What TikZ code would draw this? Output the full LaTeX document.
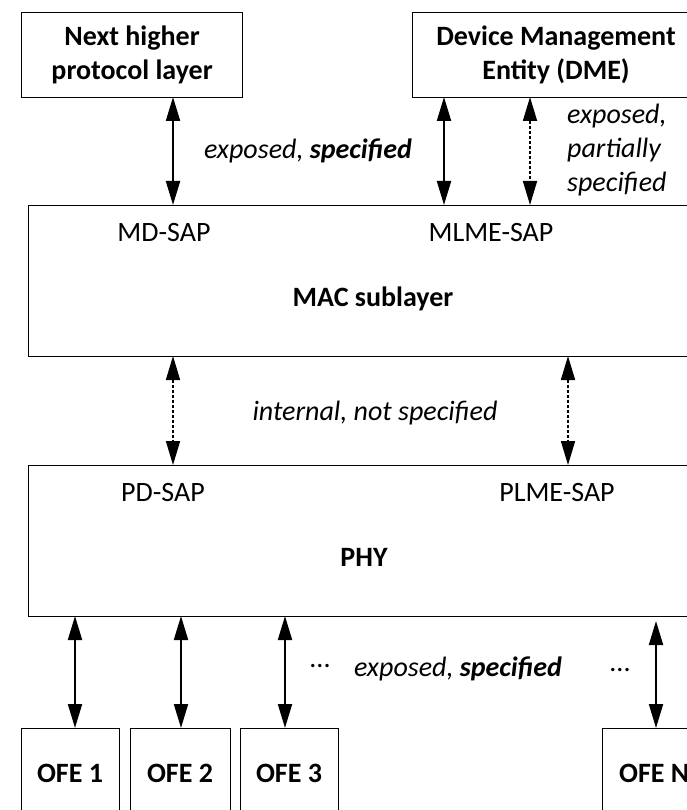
\documentclass[tikz,border=0pt]{standalone}
\usepackage{fontspec}
\setmainfont{Carlito}
\usetikzlibrary{arrows.meta}
\begin{document}
\begin{tikzpicture}[x=1pt,y=-1pt,
  box/.style={draw, line width=1.2pt, anchor=north west, inner sep=0pt},
  lbl/.style={font=\fontsize{28}{34}\selectfont, inner sep=0pt},
  blbl/.style={font=\fontsize{28}{34}\selectfont\bfseries, inner sep=0pt},
  ilbl/.style={font=\fontsize{28}{34}\selectfont\itshape, inner sep=0pt},
  tip/.style={{Triangle[length=24pt,width=14pt]}-{Triangle[length=24pt,width=14pt]}},
  solidarrow/.style={tip, line width=2pt},
  dasharrow/.style={tip, line width=1.6pt, dash pattern=on 3pt off 2pt}]
\useasboundingbox (0,0) rectangle (687,810);
\clip (0,0) rectangle (687,810);
\fill[white] (0,0) rectangle (687,810);

% upper entities
\node[box, minimum width=221pt, minimum height=85pt] (nhl) at (21,12) {};
\node[blbl, align=center] at (nhl.center) {Next higher\\protocol layer};
\node[box, minimum width=300pt, minimum height=85pt] (dme) at (412,12) {};
\node[blbl, align=center] at (556,55) {Device Management\\Entity (DME)};

% MAC sublayer
\node[box, minimum width=700pt, minimum height=151pt] (mac) at (28,205) {};
\node[lbl] (mdsap) at (164,233) {MD-SAP};
\node[lbl] (mlmesap) at (491,233) {MLME-SAP};
\node[blbl] (macl) at (373,299) {MAC sublayer};

% PHY
\node[box, minimum width=700pt, minimum height=151pt] (phy) at (28,465) {};
\node[lbl] (pdsap) at (163,493) {PD-SAP};
\node[lbl] (plmesap) at (557,493) {PLME-SAP};
\node[blbl] (phyl) at (364,557) {PHY};

% optical front ends
\node[box, minimum width=98pt, minimum height=120pt] (ofe1) at (21,728) {};
\node[box, minimum width=100pt, minimum height=120pt] (ofe2) at (130,728) {};
\node[box, minimum width=98pt, minimum height=120pt] (ofe3) at (240,728) {};
\node[box, minimum width=120pt, minimum height=120pt] (ofen) at (602,728) {};
\node[blbl] at (70,773) {OFE 1};
\node[blbl] at (180,773) {OFE 2};
\node[blbl] at (289,773) {OFE 3};
\node[blbl, anchor=west] at (619,773) {OFE N};

% connector end points
\coordinate (a1t) at (173,97);  \coordinate (a1b) at (173,205);
\coordinate (a2t) at (444,97);  \coordinate (a2b) at (444,205);
\coordinate (a3t) at (530,97);  \coordinate (a3b) at (530,205);
\coordinate (m1t) at (173,356); \coordinate (m1b) at (173,465);
\coordinate (m2t) at (568,356); \coordinate (m2b) at (568,465);
\coordinate (o1t) at (75,616);  \coordinate (o1b) at (75,728);
\coordinate (o2t) at (181,616); \coordinate (o2b) at (181,728);
\coordinate (o3t) at (285,616); \coordinate (o3b) at (285,728);
\coordinate (ont) at (656,621); \coordinate (onb) at (656,728);

\draw[solidarrow] (a1t) -- (a1b);
\draw[solidarrow] (a2t) -- (a2b);
\draw[dasharrow]  (a3t) -- (a3b);
\draw[dasharrow]  (m1t) -- (m1b);
\draw[dasharrow]  (m2t) -- (m2b);
\draw[solidarrow] (o1t) -- (o1b);
\draw[solidarrow] (o2t) -- (o2b);
\draw[solidarrow] (o3t) -- (o3b);
\draw[solidarrow] (ont) -- (onb);

% interface annotations
\node[ilbl] (t1) at (308,151) {exposed, \textbf{specified}};
\node[ilbl, anchor=west, align=left] (t2) at (567,150) {exposed,\\partially\\specified};
\node[ilbl] (t3) at (375,413) {internal, not specified};
\node[ilbl] (t4) at (458,669) {exposed, \textbf{specified}};
\node[lbl] (d1) at (320,666) {...};
\node[lbl] (d2) at (620,670) {...};
\end{tikzpicture}
\end{document}
